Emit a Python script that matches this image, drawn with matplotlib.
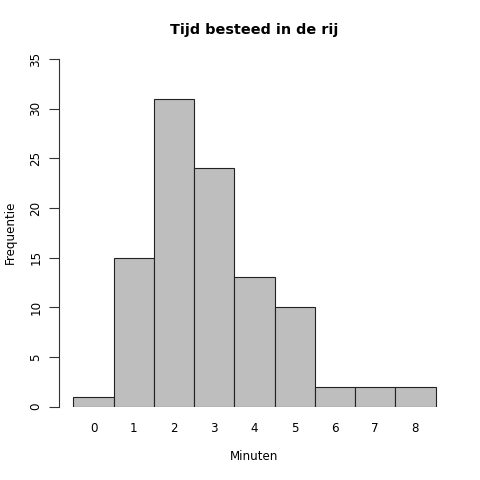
import matplotlib
matplotlib.use("Agg")
import matplotlib.pyplot as plt

categories = ["0", "1", "2", "3", "4", "5", "6", "7", "8"]
counts = [1, 15, 31, 24, 13, 10, 2, 2, 2]
yticks = [0, 5, 10, 15, 20, 25, 30, 35]

plt.rcParams['font.family'] = ['DejaVu Sans']
fig = plt.figure(figsize=(4.8, 4.8), dpi=100)
ax = fig.add_axes([59/480, 73.4/480, (450-59)/480, (421-73.4)/480])
x = list(range(len(categories)))
ax.bar(x, counts, width=1.0, color="#BEBEBE", edgecolor="#222222", linewidth=0.8)
ax.set_xlim(-0.86, 8.86)
ax.set_ylim(0, 35)
for s in ["top", "right", "bottom"]:
    ax.spines[s].set_visible(False)
ax.spines["left"].set_bounds(0, 35)
ax.spines["left"].set_color("#333333")
ax.spines["left"].set_linewidth(0.8)
ax.set_yticks(yticks)
ax.set_yticklabels([str(v) for v in yticks], rotation=90, va="center", fontsize=8.6)
ax.tick_params(axis="y", length=7, width=0.8, color="#333333", pad=5)
ax.set_xticks(x)
ax.set_xticklabels(categories, fontsize=8.6)
ax.tick_params(axis="x", length=0, pad=11)
fig.text(254.5/480, 1 - 457/480, "Minuten", ha="center", va="center", fontsize=8.6)
fig.text(10/480, 1 - 232/480, "Frequentie", ha="center", va="center", fontsize=8.6,
         rotation=90)
fig.text(254.5/480, 1 - 30/480, "Tijd besteed in de rij", ha="center", va="center",
         fontsize=10.4, fontweight="bold")
fig.savefig("out.png", dpi=100)
